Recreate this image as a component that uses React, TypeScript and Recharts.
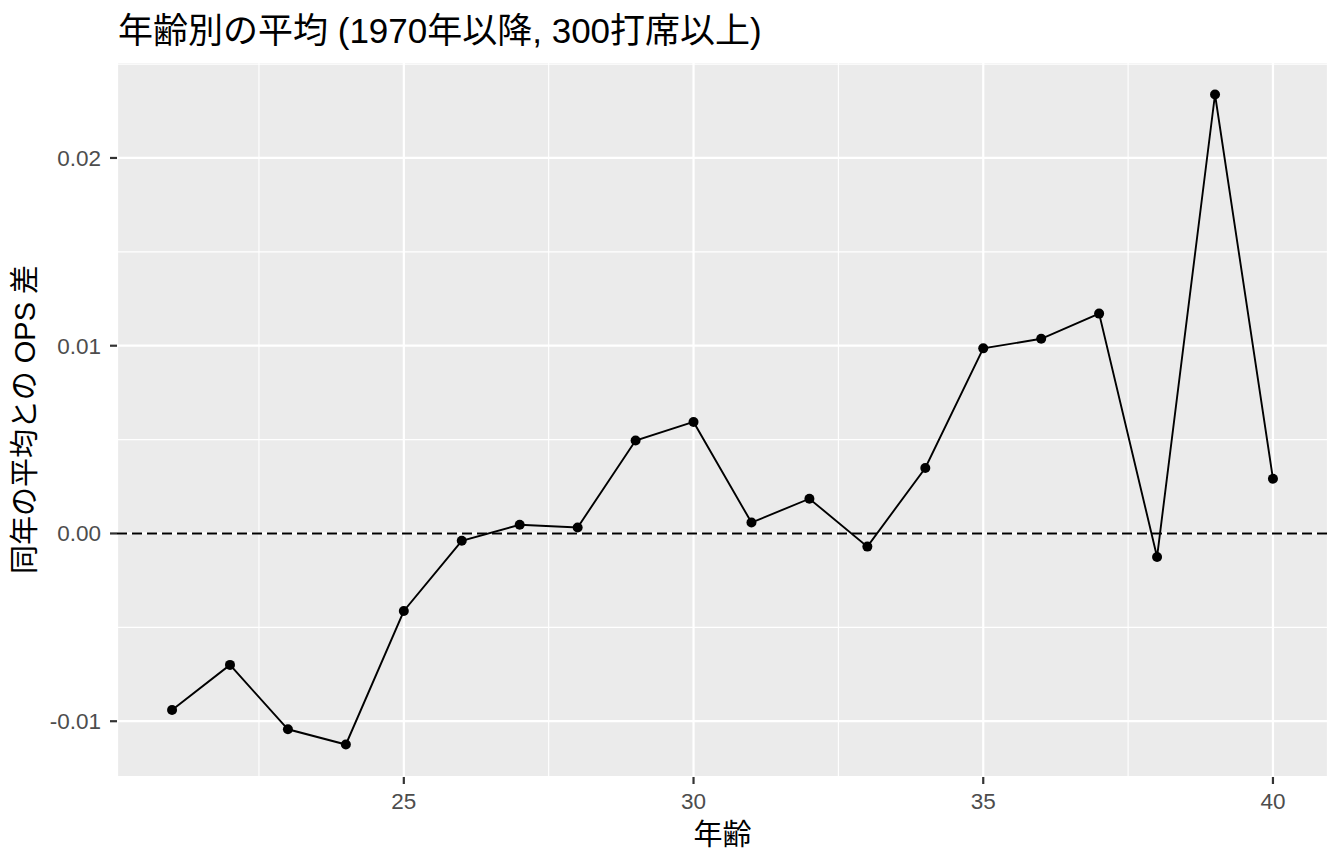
import React from 'react';
import { LineChart, Line, XAxis, YAxis, CartesianGrid, ReferenceLine } from 'recharts';

const ages = [21, 22, 23, 24, 25, 26, 27, 28, 29, 30, 31, 32, 33, 34, 35, 36, 37, 38, 39, 40];
const opsDiff = [
  -0.0094, -0.007, -0.01043, -0.01124, -0.00413, -0.00039, 0.00046, 0.00032, 0.00495, 0.00594,
  0.00058, 0.00185, -0.0007, 0.00349, 0.00986, 0.01037, 0.01171, -0.00125, 0.02338, 0.00291,
];
const xTicks = [25, 30, 35, 40];
const yTicks = [-0.01, 0, 0.01, 0.02];
const xMinorTicks = [22.5, 27.5, 32.5, 37.5];
const yMinorTicks = [-0.005, 0.005, 0.015, 0.025];
const titleText = '年齢別の平均 (1970年以降, 300打席以上)';
const xTitle = '年齢';
const yTitle = '同年の平均との OPS 差';

const FONT = '"Liberation Sans", Arial, "Noto Sans CJK JP", sans-serif';

const data = ages.map((age, i) => ({ age, ops: opsDiff[i] }));

const expand = (arr: number[]): [number, number] => {
  const lo = Math.min(...arr);
  const hi = Math.max(...arr);
  const pad = (hi - lo) * 0.05;
  return [lo - pad, hi + pad];
};
const xDomain = expand(ages);
const yDomain = expand(opsDiff);

const XTitleLabel = (props: any) => {
  const vb = props.viewBox || { x: 117, y: 777, width: 1211, height: 87 };
  return (
    <text
      x={vb.x + vb.width / 2}
      y={vb.y + 57.5}
      textAnchor="middle"
      dominantBaseline="central"
      fontSize={29}
      fontFamily={FONT}
      fill="#000000"
    >
      {xTitle}
    </text>
  );
};

const YTitleLabel = (props: any) => {
  const vb = props.viewBox || { x: 0, y: 62, width: 117, height: 715 };
  const cx = vb.x + 25;
  const cy = vb.y + vb.height / 2;
  return (
    <text
      x={cx}
      y={cy}
      transform={`rotate(-90, ${cx}, ${cy})`}
      textAnchor="middle"
      dominantBaseline="central"
      fontSize={29}
      fontFamily={FONT}
      fill="#000000"
    >
      {yTitle}
    </text>
  );
};

export default function App() {
  return (
    <div style={{ position: 'absolute', left: 0, top: 0, width: 1344, height: 864, background: '#FFFFFF' }}>
      <div
        style={{
          position: 'absolute',
          left: 118,
          top: 13,
          fontSize: 35,
          lineHeight: '35px',
          fontFamily: FONT,
          color: '#000000',
          whiteSpace: 'nowrap',
        }}
      >
        {titleText}
      </div>
      <LineChart width={1344} height={864} data={data} margin={{ top: 62, right: 16, left: 0, bottom: 0 }}>
        <CartesianGrid fill="#EBEBEB" fillOpacity={1} stroke="#FFFFFF" strokeWidth={2.2} />
        {xMinorTicks.map((v) => (
          <ReferenceLine key={`xm${v}`} x={v} stroke="#FFFFFF" strokeWidth={1.1} />
        ))}
        {yMinorTicks.map((v) => (
          <ReferenceLine key={`ym${v}`} y={v} stroke="#FFFFFF" strokeWidth={1.1} />
        ))}
        <XAxis
          dataKey="age"
          type="number"
          domain={xDomain}
          allowDataOverflow
          ticks={xTicks}
          interval={0}
          height={87}
          axisLine={false}
          tickLine={{ stroke: '#333333', strokeWidth: 2.2 }}
          tickSize={7}
          tickMargin={9}
          tick={{ fill: '#4D4D4D', fontSize: 22.5, fontFamily: FONT }}
          label={<XTitleLabel />}
        />
        <YAxis
          type="number"
          domain={yDomain}
          allowDataOverflow
          ticks={yTicks}
          interval={0}
          width={117}
          axisLine={false}
          tickLine={{ stroke: '#333333', strokeWidth: 2.2 }}
          tickSize={7}
          tickMargin={9}
          tickFormatter={(v: number) => v.toFixed(2)}
          tick={{ fill: '#4D4D4D', fontSize: 22.5, fontFamily: FONT }}
          label={<YTitleLabel />}
        />
        <ReferenceLine y={0} stroke="#000000" strokeWidth={2} strokeDasharray="10 5" />
        <Line
          type="linear"
          dataKey="ops"
          stroke="#000000"
          strokeWidth={1.9}
          dot={{ r: 5, fill: '#000000', stroke: 'none' }}
          activeDot={false}
          isAnimationActive={false}
        />
      </LineChart>
    </div>
  );
}
